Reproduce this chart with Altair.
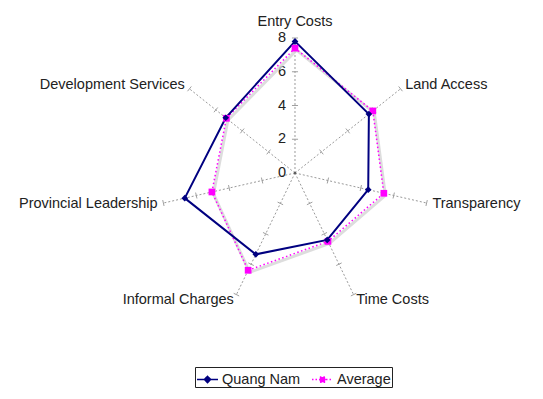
import math
import altair as alt
import pandas as pd

categories = ["Entry Costs", "Land Access", "Transparency", "Time Costs",
              "Informal Charges", "Provincial Leadership", "Development Services"]
quang_nam = [7.8, 5.6, 4.45, 4.4, 5.35, 6.7, 5.25]
average = [7.4, 5.9, 5.4, 4.5, 6.4, 5.05, 5.2]
tick_values = [0, 2, 4, 6, 8]
series_names = ["Quang Nam", "Average"]

N = len(categories)
RMAX = 8
NAVY = "#000080"
MAGENTA = "#ff00ff"
FONT = "Liberation Sans"
FS = 14.5

rows = []
for s, vals in zip(series_names, [quang_nam, average]):
    for k in range(N + 1):
        rows.append({"series": s, "idx": k % N, "order": k, "value": vals[k % N]})
series_df = pd.DataFrame(rows)
cat_df = pd.DataFrame({"category": categories, "idx": list(range(N)), "value": [RMAX] * N})
tick_rows = [{"idx": i, "r": t} for i in range(N) for t in tick_values if t > 0]
tick_df = pd.DataFrame(tick_rows)
num_df = pd.DataFrame({"value": tick_values})
legend_df = pd.DataFrame({"series": series_names})

xs = alt.Scale(domain=[-17.007, 14.222], nice=False, zero=False)
ys = alt.Scale(domain=[-12.919, 9.778], nice=False, zero=False)
ang = f"datum.idx * 2 * PI / {N}"


def X(f):
    return alt.X(f, type="quantitative", scale=xs, axis=None)


def Y(f):
    return alt.Y(f, type="quantitative", scale=ys, axis=None)


spokes = alt.Chart(cat_df).transform_calculate(
    t=ang, zero="0",
    ex="datum.value * sin(datum.t)", ey="datum.value * cos(datum.t)"
).mark_rule(color="#9a9a9a", strokeWidth=1, strokeDash=[2, 2]).encode(
    x=X("zero"), y=Y("zero"), x2=alt.X2("ex"), y2=alt.Y2("ey"))

ticks = alt.Chart(tick_df).transform_calculate(
    t=ang,
    ax="datum.r * sin(datum.t) + 0.18 * cos(datum.t)",
    ay="datum.r * cos(datum.t) - 0.18 * sin(datum.t)",
    bx="datum.r * sin(datum.t) - 0.18 * cos(datum.t)",
    by="datum.r * cos(datum.t) + 0.18 * sin(datum.t)",
).mark_rule(color="#a0a0a0", strokeWidth=1).encode(
    x=X("ax"), y=Y("ay"), x2=alt.X2("bx"), y2=alt.Y2("by"))

nums = alt.Chart(num_df).transform_calculate(zero="0").mark_text(
    align="right", baseline="middle", dx=-9, fontSize=FS, font=FONT, color="#222222"
).encode(x=X("zero"), y=Y("value"), text=alt.Text("value:Q"))

center_dot = alt.Chart(num_df).transform_filter("datum.value == 0").transform_calculate(
    zero="0").mark_point(filled=True, size=6, color="#444444").encode(x=X("zero"), y=Y("zero"))

lab_base = alt.Chart(cat_df).transform_calculate(
    t=ang, s="sin(datum.t)",
    lx="(datum.value + 0.35) * sin(datum.t)", ly="(datum.value + 0.35) * cos(datum.t)")
lab_left = lab_base.transform_filter("datum.s > 0.1").mark_text(
    align="left", baseline="middle", fontSize=FS, font=FONT, color="#222222"
).encode(x=X("lx"), y=Y("ly"), text="category:N")
lab_right = lab_base.transform_filter("datum.s < -0.1").mark_text(
    align="right", baseline="middle", fontSize=FS, font=FONT, color="#222222"
).encode(x=X("lx"), y=Y("ly"), text="category:N")
lab_top = lab_base.transform_filter("abs(datum.s) <= 0.1").mark_text(
    align="center", baseline="alphabetic", dy=-6, fontSize=FS, font=FONT, color="#222222"
).encode(x=X("lx"), y=Y("ly"), text="category:N")

pos = alt.Chart(series_df).transform_calculate(
    t=ang, px="datum.value * sin(datum.t)", py="datum.value * cos(datum.t)",
    sx="datum.value * sin(datum.t) + 0.09", sy="datum.value * cos(datum.t) - 0.12")

shadow = pos.transform_filter("datum.series == 'Average'").mark_line(
    color="#d4d4d4", strokeWidth=3, opacity=0.8).encode(
    x=X("sx"), y=Y("sy"), order="order:Q")
avg_line = pos.transform_filter("datum.series == 'Average'").mark_line(
    color=MAGENTA, strokeWidth=1.5, strokeDash=[1.5, 2.5]).encode(
    x=X("px"), y=Y("py"), order="order:Q")
qn_line = pos.transform_filter("datum.series == 'Quang Nam'").mark_line(
    color=NAVY, strokeWidth=2).encode(x=X("px"), y=Y("py"), order="order:Q")
avg_pts = pos.transform_filter("datum.series == 'Average' && datum.order < 7").mark_point(
    shape="square", filled=True, size=45, color=MAGENTA, opacity=1).encode(x=X("px"), y=Y("py"))
qn_pts = pos.transform_filter("datum.series == 'Quang Nam' && datum.order < 7").mark_point(
    shape="diamond", filled=True, size=45, color=NAVY, opacity=1).encode(x=X("px"), y=Y("py"))

leg = alt.Legend(title=None, orient="none", legendX=187, legendY=359, direction="horizontal",
                 strokeColor="#222222", padding=1, symbolSize=441, symbolStrokeWidth=1.5,
                 symbolOpacity=1, labelFontSize=FS, labelFont=FONT, labelColor="#222222",
                 columnPadding=8, labelOffset=3, fillColor="white")
shape_q = "M-1,0L1,0M-0.3,0L0,-0.3L0.3,0L0,0.3Z"
shape_a = "M-1,0L1,0M-0.25,-0.25L0.25,-0.25L0.25,0.25L-0.25,0.25Z"
legend_layer = alt.Chart(legend_df).transform_calculate(zero="0").mark_point(
    filled=True, opacity=0, size=1).encode(
    x=X("zero"), y=Y("zero"),
    fill=alt.Fill("series:N", scale=alt.Scale(domain=series_names, range=[NAVY, MAGENTA]), legend=leg),
    stroke=alt.Stroke("series:N", scale=alt.Scale(domain=series_names, range=[NAVY, MAGENTA]), legend=leg),
    shape=alt.Shape("series:N", scale=alt.Scale(domain=series_names, range=[shape_q, shape_a]), legend=leg),
    strokeDash=alt.StrokeDash("series:N", scale=alt.Scale(domain=series_names, range=[[1, 0], [1.5, 2]]), legend=leg),
)

chart = alt.layer(
    spokes, ticks, center_dot, nums, lab_left, lab_right, lab_top,
    shadow, avg_line, qn_line, avg_pts, qn_pts, legend_layer
).properties(
    width=527, height=383, padding=0,
    autosize=alt.AutoSizeParams(type="none")
).configure_view(strokeWidth=0, stroke="transparent")

chart.save("out.html", embed_options={"renderer": "svg", "actions": False})
